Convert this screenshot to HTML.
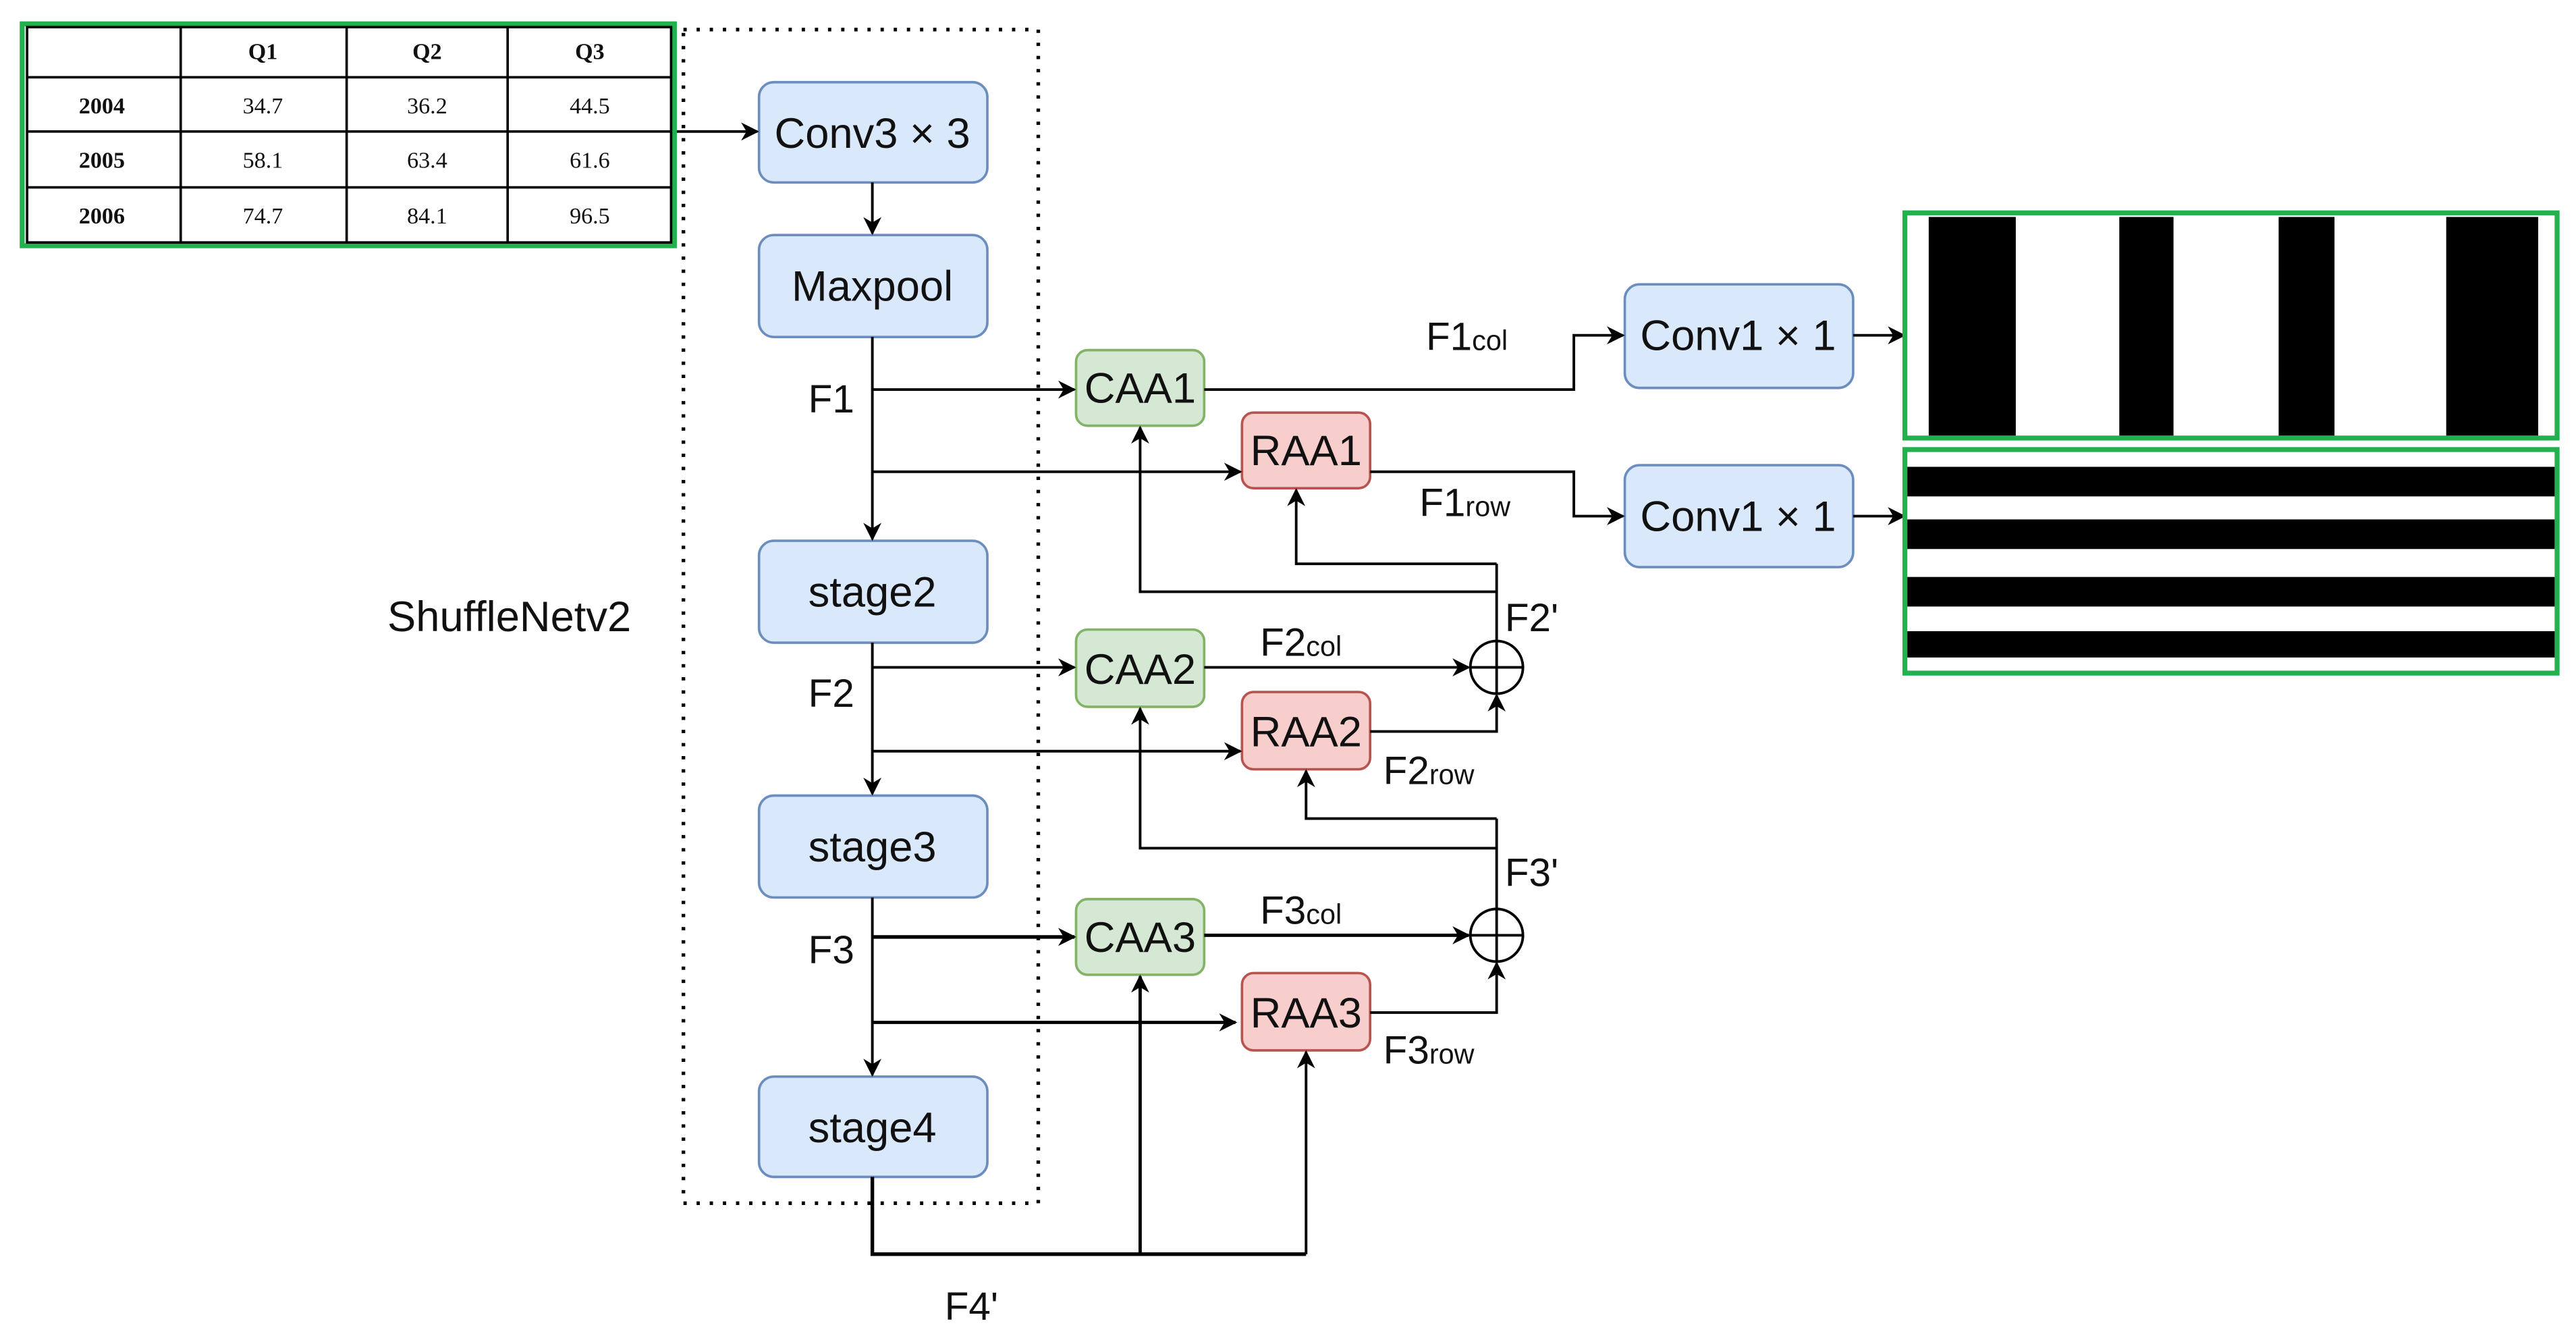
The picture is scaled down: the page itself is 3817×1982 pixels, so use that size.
<!DOCTYPE html>
<html><head><meta charset="utf-8"><style>
html,body{margin:0;padding:0;background:#fff;width:3817px;height:1982px;overflow:hidden}
svg{display:block}
text{font-family:"Liberation Sans",sans-serif;fill:#111}
.t{font-family:"Liberation Serif",serif;font-size:14px;text-anchor:middle}
.b{font-size:26px;text-anchor:middle}
.l{font-size:24px}
.s{font-size:17px}
</style></head><body>
<svg width="3817" height="1982" viewBox="0 0 1568 814" preserveAspectRatio="none">
<defs><marker id="a" viewBox="0 0 10 10" refX="9" refY="5" markerWidth="11" markerHeight="11" orient="auto" markerUnits="userSpaceOnUse"><path d="M0,0 L10,5 L0,10 L3,5z" fill="#000"/></marker></defs>
<rect x="13.5" y="14.5" width="397" height="135" fill="#fff" stroke="#22b14c" stroke-width="3"/>
<rect x="16.5" y="16.5" width="392" height="131" fill="none" stroke="#000" stroke-width="1.5"/>
<g stroke="#000" stroke-width="1.5"><line x1="110" y1="16" x2="110" y2="148"/><line x1="211" y1="16" x2="211" y2="148"/><line x1="309" y1="16" x2="309" y2="148"/>
<line x1="16" y1="47" x2="408" y2="47"/><line x1="16" y1="80" x2="408" y2="80"/><line x1="16" y1="114" x2="408" y2="114"/></g>
<text x="160" y="36" class="t" font-weight="bold">Q1</text><text x="260" y="36" class="t" font-weight="bold">Q2</text><text x="359" y="36" class="t" font-weight="bold">Q3</text>
<text x="62" y="69" class="t" font-weight="bold">2004</text><text x="62" y="102" class="t" font-weight="bold">2005</text><text x="62" y="136" class="t" font-weight="bold">2006</text>
<text x="160" y="69" class="t">34.7</text><text x="260" y="69" class="t">36.2</text><text x="359" y="69" class="t">44.5</text>
<text x="160" y="102" class="t">58.1</text><text x="260" y="102" class="t">63.4</text><text x="359" y="102" class="t">61.6</text>
<text x="160" y="136" class="t">74.7</text><text x="260" y="136" class="t">84.1</text><text x="359" y="136" class="t">96.5</text>
<rect x="416" y="18" width="216" height="714" fill="none" stroke="#000" stroke-width="2.2" stroke-dasharray="2,6"/>
<text x="310" y="384" font-size="26" text-anchor="middle">ShuffleNetv2</text>
<g fill="#dae8fc" stroke="#6c8ebf" stroke-width="1.5">
<rect x="462" y="50" width="139" height="61" rx="9"/><rect x="462" y="143" width="139" height="62" rx="9"/>
<rect x="462" y="329" width="139" height="62" rx="9"/><rect x="462" y="484" width="139" height="62" rx="9"/>
<rect x="462" y="655" width="139" height="61" rx="9"/>
<rect x="989" y="173" width="139" height="63" rx="9"/><rect x="989" y="283" width="139" height="62" rx="9"/></g>
<g fill="#d5e8d4" stroke="#82b366" stroke-width="1.5">
<rect x="655" y="213" width="78" height="46" rx="7"/><rect x="655" y="383" width="78" height="47" rx="7"/><rect x="655" y="547" width="78" height="46" rx="7"/></g>
<g fill="#f8cecc" stroke="#b85450" stroke-width="1.5">
<rect x="756" y="251" width="78" height="46" rx="7"/><rect x="756" y="421" width="78" height="47" rx="7"/><rect x="756" y="592" width="78" height="47" rx="7"/></g>
<text x="531" y="90" class="b">Conv3 × 3</text><text x="531" y="183" class="b">Maxpool</text>
<text x="531" y="369" class="b">stage2</text><text x="531" y="524" class="b">stage3</text><text x="531" y="695" class="b">stage4</text>
<text x="1058" y="213" class="b">Conv1 × 1</text><text x="1058" y="323" class="b">Conv1 × 1</text>
<text x="694" y="245" class="b">CAA1</text><text x="694" y="416" class="b">CAA2</text><text x="694" y="579" class="b">CAA3</text>
<text x="795" y="283" class="b">RAA1</text><text x="795" y="454" class="b">RAA2</text><text x="795" y="625" class="b">RAA3</text>
<g stroke="#000" stroke-width="1.6" fill="none">
<line x1="412" y1="80" x2="461" y2="80" marker-end="url(#a)"/>
<line x1="531" y1="111" x2="531" y2="142" marker-end="url(#a)"/>
<line x1="531" y1="205" x2="531" y2="328" marker-end="url(#a)"/>
<line x1="531" y1="391" x2="531" y2="483" marker-end="url(#a)"/>
<line x1="531" y1="546" x2="531" y2="654" marker-end="url(#a)"/>
<line x1="531" y1="237" x2="654" y2="237" marker-end="url(#a)"/>
<line x1="531" y1="287" x2="755" y2="287" marker-end="url(#a)"/>
<line x1="531" y1="406" x2="654" y2="406" marker-end="url(#a)"/>
<line x1="531" y1="457" x2="755" y2="457" marker-end="url(#a)"/>
<line x1="531" y1="570" x2="654" y2="570" marker-end="url(#a)" stroke-width="2.2"/>
<line x1="531" y1="622" x2="752" y2="622" marker-end="url(#a)" stroke-width="2"/>
<polyline points="531,716 531,763 795,763" stroke-width="2.2"/>
<line x1="694" y1="763" x2="694" y2="594" marker-end="url(#a)" stroke-width="2"/>
<line x1="795" y1="763" x2="795" y2="640" marker-end="url(#a)"/>
<polyline points="733,237 958,237 958,204 988,204" marker-end="url(#a)"/>
<polyline points="834,287 958,287 958,314 988,314" marker-end="url(#a)"/>
<line x1="1128" y1="204" x2="1159" y2="204" marker-end="url(#a)"/>
<line x1="1128" y1="314" x2="1159" y2="314" marker-end="url(#a)"/>
<line x1="733" y1="406" x2="894" y2="406" marker-end="url(#a)"/>
<line x1="733" y1="569" x2="894" y2="569" marker-end="url(#a)" stroke-width="2"/>
<polyline points="834,445 911,445 911,423" marker-end="url(#a)"/>
<polyline points="834,616 911,616 911,586" marker-end="url(#a)"/>
<circle cx="911" cy="406" r="16"/><line x1="895" y1="406" x2="927" y2="406"/>
<circle cx="911" cy="569" r="16"/><line x1="895" y1="569" x2="927" y2="569"/>
<line x1="911" y1="343" x2="911" y2="422"/><line x1="911" y1="498" x2="911" y2="585"/>
<polyline points="911,343 789,343 789,298" marker-end="url(#a)"/>
<polyline points="911,360 694,360 694,260" marker-end="url(#a)"/>
<polyline points="911,498 795,498 795,469" marker-end="url(#a)"/>
<polyline points="911,516 694,516 694,431" marker-end="url(#a)"/>
</g>
<text x="492" y="251" class="l">F1</text><text x="492" y="430" class="l">F2</text><text x="492" y="586" class="l">F3</text>
<text x="575" y="803" class="l">F4'</text>
<text x="916" y="384" class="l">F2'</text><text x="916" y="539" class="l">F3'</text>
<text x="868" y="213" class="l">F1<tspan class="s">col</tspan></text>
<text x="864" y="314" class="l">F1<tspan class="s">row</tspan></text>
<text x="767" y="399" class="l">F2<tspan class="s">col</tspan></text>
<text x="842" y="477" class="l">F2<tspan class="s">row</tspan></text>
<text x="767" y="562" class="l">F3<tspan class="s">col</tspan></text>
<text x="842" y="647" class="l">F3<tspan class="s">row</tspan></text>
<rect x="1159.5" y="129.5" width="397" height="137" fill="#fff" stroke="#22b14c" stroke-width="3"/>
<g fill="#000"><rect x="1174" y="132" width="53" height="133"/><rect x="1290" y="132" width="33" height="133"/><rect x="1387" y="132" width="34" height="133"/><rect x="1489" y="132" width="56" height="133"/></g>
<rect x="1159.5" y="273.5" width="397" height="136" fill="#fff" stroke="#22b14c" stroke-width="3"/>
<g fill="#000"><rect x="1161" y="284" width="394" height="18"/><rect x="1161" y="316" width="394" height="18"/><rect x="1161" y="351" width="394" height="18"/><rect x="1161" y="384" width="394" height="16"/></g>
</svg>
</body></html>
